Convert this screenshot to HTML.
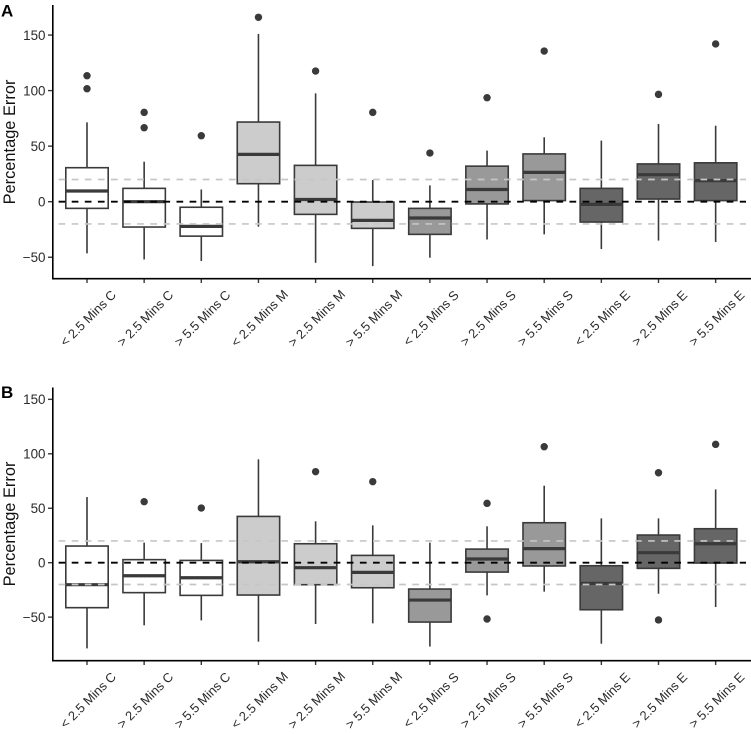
<!DOCTYPE html>
<html lang="en">
<head>
<meta charset="utf-8">
<title>Percentage Error Boxplots</title>
<style>
html,body{margin:0;padding:0;background:#fff;}
svg{display:block;font-family:"Liberation Sans",Arial,sans-serif;}
</style>
</head>
<body>
<svg id="chart" xmlns="http://www.w3.org/2000/svg" width="751" height="735" viewBox="0 0 751 735"></svg>
<script>
const categories = ['< 2.5 Mins C','> 2.5 Mins C','> 5.5 Mins C','< 2.5 Mins M','> 2.5 Mins M','> 5.5 Mins M','< 2.5 Mins S','> 2.5 Mins S','> 5.5 Mins S','< 2.5 Mins E','> 2.5 Mins E','> 5.5 Mins E'];
const yTicks = [-50, 0, 50, 100, 150];
const refLinesGrey = [20, -20];
const refLineBlack = [0];

const aWhiskerLow  = [-46.5,-52,-53.4,-22.5,-55,-58,-50.4,-34,-29.4,-42.6,-35,-36.3];
const aQ1          = [-6,-22.8,-31,16.2,-11.4,-24,-29.4,-2,1,-18.3,2.4,1];
const aMedian      = [9.6,0,-22.2,42.6,2,-16.8,-14.7,11,26.4,-2.4,24.3,19];
const aQ3          = [30.6,12,-5,71.7,32.7,-0.3,-6,32,43,12,34,35];
const aWhiskerHigh = [71.4,36,11,151,97.5,19.5,14.7,46,58,55,70,68.4];
const aOutliers    = [[113.4,101.7],[80.4,66.6],[59.4],[166],[117.6],[80.4],[43.8],[93.6],[135.6],[],[96.6],[142]];

const bWhiskerLow  = [-78.7,-57.5,-53,-72.5,-56.3,-55.7,-77,-30,-26.6,-74.4,-28.5,-40.7];
const bQ1          = [-41.3,-27.5,-30,-29.7,-20.2,-23,-54.5,-8.6,-3,-43.2,-5.2,-0.3];
const bMedian      = [-20.2,-12,-13.8,0.9,-4.6,-8.9,-34.3,3.4,12.9,-19,9.2,17.4];
const bQ3          = [15.3,2.8,2.1,42.5,17.4,6.7,-24.2,12.5,36.7,-2.8,25.4,31.2];
const bWhiskerHigh = [60.3,18.4,18,94.9,38,34.3,18.4,33.4,70.7,40.7,40.7,67.3];
const bOutliers    = [[],[56],[50.2],[],[83.6],[74.4],[],[54.5,-51.7],[106.5],[],[82.6,-52.6],[108.7]];

const NS = 'http://www.w3.org/2000/svg';
const root = document.getElementById('chart');
const STROKE = '#3a3a3a';
const groupFill = {C:'#ffffff', M:'#cccccc', S:'#999999', E:'#666666'};

function xPos(i){ return 87 + i * 57.15; }

function make(parent, tag, attrs, text){
  const el = document.createElementNS(NS, tag);
  for (const k in attrs) el.setAttribute(k, attrs[k]);
  if (text !== undefined) el.textContent = text;
  parent.appendChild(el);
  return el;
}

function drawPanel(p){
  const y = v => p.zero - p.scale * v;
  const g = make(root, 'g', {});
  
  

  categories.forEach((cat, i) => {
    const x = xPos(i);
    const fill = groupFill[cat.charAt(cat.length - 1)];
    const box = make(g, 'g', {});
    
    

    const wh = make(box, 'line', {x1:x, x2:x, y1:y(p.high[i]), y2:y(p.q3[i]), stroke:STROKE, 'stroke-width':1.6});
    
    

    const wl = make(box, 'line', {x1:x, x2:x, y1:y(p.q1[i]), y2:y(p.low[i]), stroke:STROKE, 'stroke-width':1.6});
    
    

    const r = make(box, 'rect', {x:x - 21.2, width:42.4, y:y(p.q3[i]), height:y(p.q1[i]) - y(p.q3[i]), fill:fill, stroke:STROKE, 'stroke-width':1.6});
    
    

    const m = make(box, 'line', {x1:x - 21.2, x2:x + 21.2, y1:y(p.median[i]), y2:y(p.median[i]), stroke:STROKE, 'stroke-width':3.2});
    
    

    p.outliers[i].forEach(v => {
      const c = make(box, 'circle', {cx:x, cy:y(v), r:3.7, fill:STROKE});
      
      
    });
  });

  refLinesGrey.forEach(v => {
    const l = make(g, 'line', {x1:53, x2:746, y1:y(v), y2:y(v), stroke:'#c6c6c6', 'stroke-width':1.7, 'stroke-dasharray':'6.7 6.4', 'stroke-dashoffset':7.5});
    
    
  });
  refLineBlack.forEach(v => {
    const l = make(g, 'line', {x1:53, x2:746, y1:y(v), y2:y(v), stroke:'#000000', 'stroke-width':1.8, 'stroke-dasharray':'6.7 6.4', 'stroke-dashoffset':7.5});
    
    
  });

  const ya = make(g, 'line', {x1:52.8, x2:52.8, y1:p.top, y2:p.bottom + 0.8, stroke:'#000', 'stroke-width':1.6});
  
  

  const xa = make(g, 'line', {x1:52, x2:751, y1:p.bottom, y2:p.bottom, stroke:'#000', 'stroke-width':1.6});
  
  

  yTicks.forEach(v => {
    const t = make(g, 'line', {x1:48, x2:52, y1:y(v), y2:y(v), stroke:STROKE, 'stroke-width':1.4});
    
    
    const lab = make(g, 'text', {x:45.5, y:y(v) + 4.8, 'text-anchor':'end', 'font-size':13.4, fill:'#2a2a2a'}, String(v).replace('-', '\u2212'));
    
    
  });

  categories.forEach((cat, i) => {
    const x = xPos(i);
    const t = make(g, 'line', {x1:x, x2:x, y1:p.bottom + 0.7, y2:p.bottom + 4.3, stroke:STROKE, 'stroke-width':1.4});
    
    
    const cx = x + 1;
    const cy = p.bottom + 39.5;
    const lab = make(g, 'text', {x:cx, y:cy, 'text-anchor':'middle', 'dominant-baseline':'central', 'font-size':12.9, fill:'#2a2a2a', transform:'rotate(-45 ' + cx + ' ' + cy + ')'}, cat);
    
    
  });

  const tx = 15;
  const ty = p.titleY;
  const title = make(g, 'text', {x:tx, y:ty, 'text-anchor':'middle', 'font-size':16.4, fill:'#111', transform:'rotate(-90 ' + tx + ' ' + ty + ')'}, 'Percentage Error');
  
  

  const letter = make(g, 'text', {x:1, y:p.letterY, 'font-size':17, 'font-weight':'bold', fill:'#000'}, p.letter);
  
  
}

drawPanel({letter:'A', zero:201.7, scale:1.111, top:5, bottom:278.7, titleY:142, letterY:16.5,
  low:aWhiskerLow, q1:aQ1, median:aMedian, q3:aQ3, high:aWhiskerHigh, outliers:aOutliers});
drawPanel({letter:'B', zero:562.7, scale:1.089, top:387.5, bottom:660.7, titleY:524, letterY:398,
  low:bWhiskerLow, q1:bQ1, median:bMedian, q3:bQ3, high:bWhiskerHigh, outliers:bOutliers});
</script>
</body>
</html>
